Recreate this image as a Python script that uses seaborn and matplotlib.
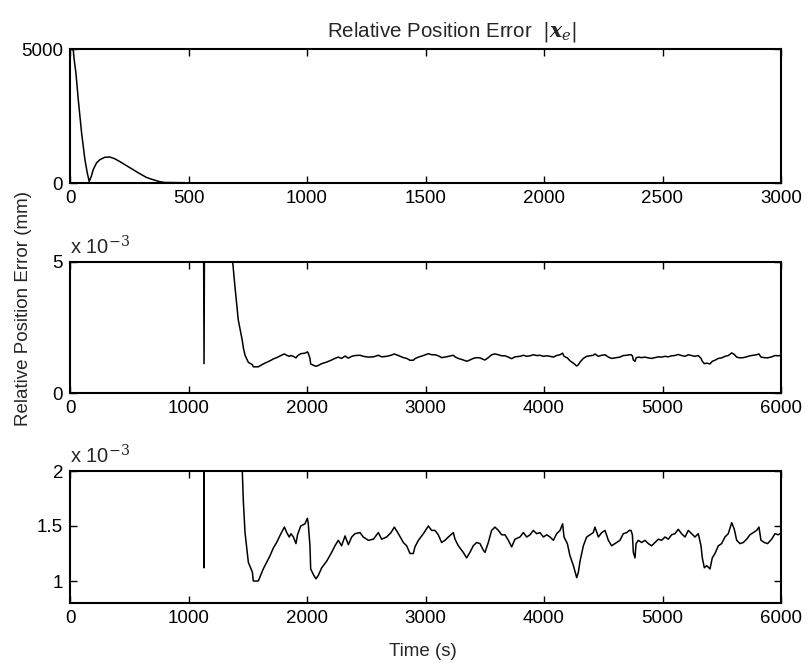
import numpy as np
import pandas as pd
import matplotlib
matplotlib.use("Agg")
import matplotlib.pyplot as plt
import seaborn as sns

# ---------------- data ----------------
# top panel: relative position error (mm), first 3000 s
top_time = [0, 3, 8, 14, 17, 25, 35, 42, 49, 56, 63, 73, 81, 90, 98, 112, 126, 147,
            168, 190, 210, 238, 266, 294, 322, 350, 378, 400, 500, 1000, 2000, 3000]
top_err = [5000, 5000, 4990, 4950, 4650, 4100, 3100, 2480, 1860, 1360, 870, 370, 60,
           250, 500, 750, 870, 960, 970, 900, 800, 650, 500, 350, 210, 125, 50, 20,
           8, 3, 1, 0]

# middle / bottom panels: relative position error (x 1e-3 mm), 0-6000 s
zoom_time = [1122, 1131, 1140, 1360, 1373, 1392, 1420, 1454, 1463, 1477, 1505, 1539,
             1547, 1589, 1631, 1660, 1688, 1716, 1744, 1775, 1809, 1829, 1850, 1865,
             1885, 1907, 1920, 1947, 1983, 2003, 2010, 2025, 2031, 2053, 2076, 2095,
             2124, 2166, 2208, 2236, 2264, 2292, 2321, 2349, 2377, 2405, 2447, 2475,
             2518, 2560, 2602, 2630, 2672, 2709, 2737, 2771, 2813, 2841, 2869, 2897,
             2911, 2940, 2982, 3024, 3052, 3080, 3108, 3136, 3164, 3193, 3235, 3249,
             3277, 3319, 3347, 3375, 3403, 3431, 3460, 3488, 3502, 3530, 3558, 3586,
             3615, 3643, 3671, 3699, 3727, 3755, 3797, 3826, 3854, 3882, 3910, 3938,
             3966, 3995, 4023, 4051, 4079, 4107, 4135, 4157, 4169, 4197, 4219, 4248,
             4276, 4290, 4304, 4332, 4360, 4388, 4416, 4430, 4459, 4487, 4515, 4543,
             4571, 4613, 4641, 4669, 4698, 4720, 4734, 4746, 4754, 4768, 4777, 4796,
             4824, 4852, 4880, 4908, 4937, 4965, 4993, 5021, 5049, 5077, 5105, 5133,
             5161, 5190, 5218, 5246, 5274, 5302, 5325, 5336, 5353, 5373, 5401, 5420,
             5443, 5471, 5499, 5527, 5555, 5584, 5606, 5626, 5654, 5682, 5710, 5738,
             5766, 5794, 5814, 5831, 5859, 5887, 5921, 5949, 5977, 5991]
zoom_err = [12.0, 1.12, 12.0, 12.0, 5.0, 4.06, 2.79, 2.00, 1.72, 1.44, 1.17, 1.08,
            1.00, 1.00, 1.11, 1.17, 1.23, 1.30, 1.35, 1.42, 1.49, 1.44, 1.40, 1.43,
            1.40, 1.34, 1.42, 1.50, 1.52, 1.57, 1.53, 1.32, 1.11, 1.06, 1.02, 1.05,
            1.12, 1.18, 1.26, 1.32, 1.37, 1.32, 1.41, 1.33, 1.40, 1.43, 1.44, 1.40,
            1.37, 1.38, 1.44, 1.38, 1.40, 1.44, 1.49, 1.43, 1.35, 1.32, 1.25, 1.25,
            1.31, 1.37, 1.43, 1.50, 1.46, 1.46, 1.42, 1.35, 1.37, 1.40, 1.44, 1.38,
            1.32, 1.26, 1.21, 1.26, 1.32, 1.35, 1.34, 1.28, 1.26, 1.35, 1.46, 1.49,
            1.46, 1.42, 1.42, 1.37, 1.31, 1.38, 1.40, 1.44, 1.40, 1.42, 1.46, 1.43,
            1.44, 1.40, 1.42, 1.40, 1.37, 1.43, 1.46, 1.52, 1.40, 1.34, 1.23, 1.14,
            1.03, 1.08, 1.18, 1.32, 1.40, 1.42, 1.44, 1.49, 1.40, 1.44, 1.46, 1.37,
            1.32, 1.35, 1.37, 1.43, 1.44, 1.46, 1.46, 1.42, 1.26, 1.21, 1.34, 1.37,
            1.35, 1.37, 1.34, 1.32, 1.35, 1.38, 1.37, 1.40, 1.38, 1.42, 1.43, 1.47,
            1.43, 1.40, 1.46, 1.43, 1.40, 1.43, 1.32, 1.21, 1.12, 1.14, 1.11, 1.21,
            1.25, 1.32, 1.34, 1.40, 1.43, 1.53, 1.47, 1.37, 1.34, 1.35, 1.38, 1.42,
            1.44, 1.46, 1.49, 1.37, 1.35, 1.34, 1.38, 1.43, 1.42, 1.43]

top_xticks = [0, 500, 1000, 1500, 2000, 2500, 3000]
top_yticks = [0, 5000]
zoom_xticks = [0, 1000, 2000, 3000, 4000, 5000, 6000]
mid_yticks = [0, 5]
bot_yticks = [1, 1.5, 2]
bot_yticklabels = ["1", "1.5", "2"]

# ---------------- style ----------------
sns.set_theme(style="white")
plt.rcParams["font.family"] = ["Liberation Sans", "DejaVu Sans"]
plt.rcParams["mathtext.fontset"] = "dejavuserif"

FS = 13.5
W, H = 807, 663
fig = plt.figure(figsize=(W / 100, H / 100), dpi=100)


def px_axes(left, top, right, bottom):
    return fig.add_axes([left / W, 1 - bottom / H, (right - left) / W, (bottom - top) / H])


ax1 = px_axes(70, 49, 781, 183)
ax2 = px_axes(70, 262, 781, 393)
ax3 = px_axes(70, 471, 781, 603)

top_df = pd.DataFrame({"t": top_time, "e": top_err})
zoom_df = pd.DataFrame({"t": zoom_time, "e": zoom_err})

sns.lineplot(data=top_df, x="t", y="e", ax=ax1, color="black", linewidth=1.1,
             estimator=None, sort=False)
sns.lineplot(data=zoom_df, x="t", y="e", ax=ax2, color="black", linewidth=1.1,
             estimator=None, sort=False)
sns.lineplot(data=zoom_df, x="t", y="e", ax=ax3, color="black", linewidth=1.1,
             estimator=None, sort=False)

ax1.set_xlim(0, 3000)
ax1.set_ylim(0, 5000)
ax1.set_xticks(top_xticks)
ax1.set_yticks(top_yticks)

ax2.set_xlim(0, 6000)
ax2.set_ylim(0, 5)
ax2.set_xticks(zoom_xticks)
ax2.set_yticks(mid_yticks)

ax3.set_xlim(0, 6000)
ax3.set_ylim(0.8, 2)
ax3.set_xticks(zoom_xticks)
ax3.set_yticks(bot_yticks)
ax3.set_yticklabels(bot_yticklabels)

for ax in (ax1, ax2, ax3):
    ax.set_xlabel("")
    ax.set_ylabel("")
    for s in ax.spines.values():
        s.set_visible(True)
        s.set_color("black")
        s.set_linewidth(1.5)
    ax.tick_params(direction="in", length=5, width=1, colors="black",
                   top=True, right=True, bottom=True, left=True,
                   labelsize=FS, pad=5)
    ax.set_facecolor("white")

for ax in (ax2, ax3):
    ax.text(0.0, 1.03, r"x 10$^{-3}$", transform=ax.transAxes, ha="left",
            va="bottom", fontsize=14.5)

ax1.text(0.537, 1.04, r"Relative Position Error  $|\boldsymbol{x}_{e}|$",
         transform=ax1.transAxes, ha="center", va="bottom", fontsize=14.8)

fig.text(24 / W, 1 - 308 / H, "Relative Position Error (mm)", rotation=90,
         ha="center", va="center", fontsize=FS)
fig.text(423 / W, 1 - 651 / H, "Time (s)", ha="center", va="center", fontsize=FS)

fig.savefig("out.png", dpi=100, facecolor="white")
